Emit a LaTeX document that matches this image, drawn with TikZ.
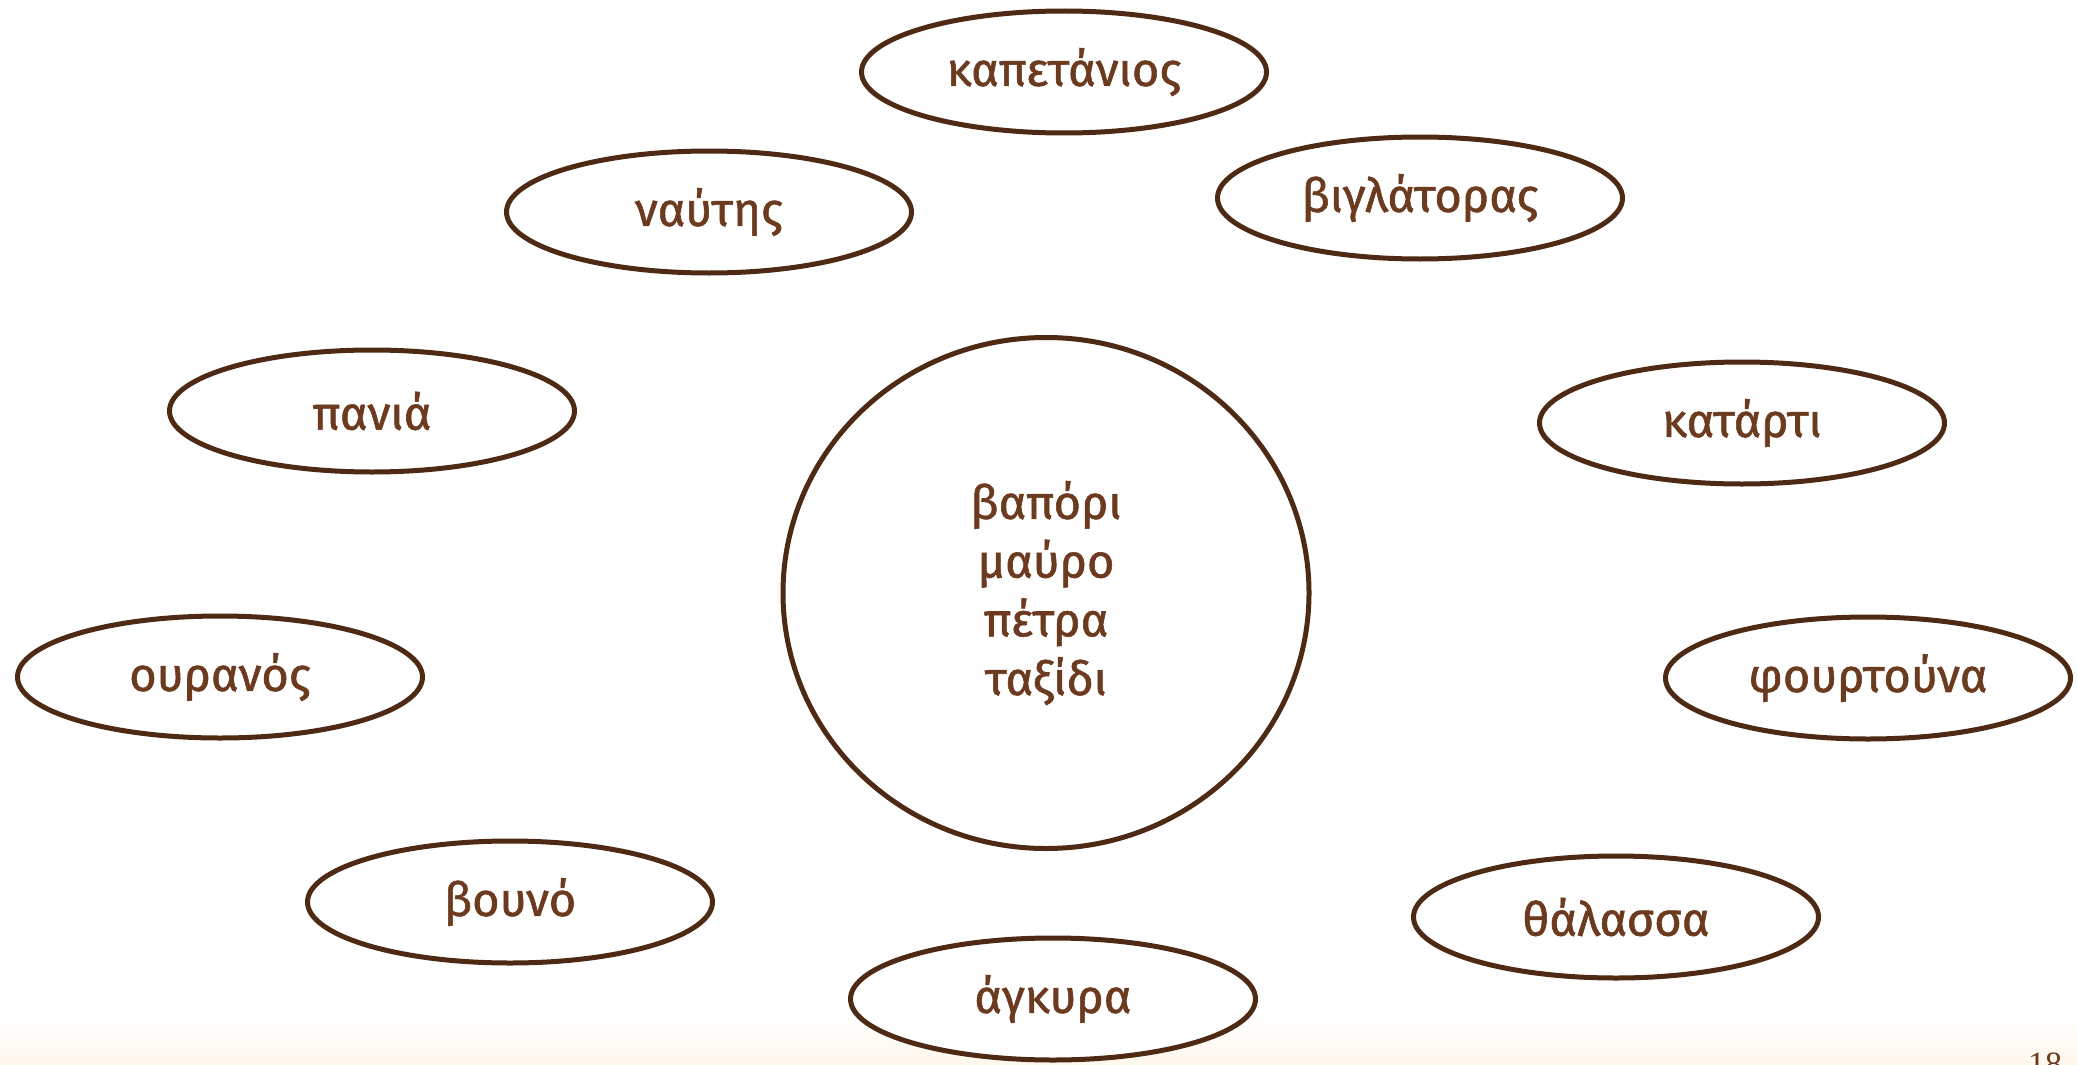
\documentclass[tikz,border=0pt]{standalone}
\usepackage{fontspec}
\setmainfont{Fira Sans}
\newfontfamily\wordfont{Fira Sans}[FakeBold=1.2]
\newfontfamily\pagenofont{Liberation Serif}
\usetikzlibrary{shapes.geometric}
\definecolor{edgebrown}{HTML}{4E2A14}
\definecolor{txtbrown}{HTML}{6B3A1F}
\definecolor{cream}{HTML}{FEF7EC}
\begin{document}
\begin{tikzpicture}[x=1pt,y=-1pt,
  word/.style={ellipse, draw=edgebrown, line width=5pt, fill=white,
    minimum width=405pt, minimum height=122pt, inner sep=0pt,
    text=txtbrown, font=\wordfont\fontsize{47}{56}\selectfont},
  hub/.style={ellipse, draw=edgebrown, line width=5pt, fill=white,
    minimum width=526pt, minimum height=511pt, inner sep=0pt, align=center,
    text=txtbrown, font=\wordfont\fontsize{47}{58.7}\selectfont}]
\useasboundingbox (0,0) rectangle (2077,1065);
\clip (0,0) rectangle (2077,1065);
\fill[white] (0,0) rectangle (2077,1065);
\shade[top color=white, bottom color=cream] (0,1015) rectangle (2077,1065);
\node[hub] (c) at (1046,593) {βαπόρι\\μαύρο\\πέτρα\\ταξίδι};
\node[word] (kap) at (1064,72) {καπετάνιος};
\node[word] (nau) at (709,212) {ναύτης};
\node[word] (vig) at (1420,198) {βιγλάτορας};
\node[word] (pan) at (372,411) {πανιά};
\node[word] (kat) at (1742,423) {κατάρτι};
\node[word] (our) at (220,677) {ουρανός};
\node[word] (fou) at (1868,678) {φουρτούνα};
\node[word] (vou) at (510,902) {βουνό};
\node[word] (thal) at (1616,917) {θάλασσα};
\node[word] (agk) at (1053,999) {άγκυρα};
\node[anchor=north, inner sep=0pt, text=txtbrown, font=\pagenofont\fontsize{34}{40}\selectfont] (pg) at (2045,1053) {18};
\end{tikzpicture}
\end{document}
